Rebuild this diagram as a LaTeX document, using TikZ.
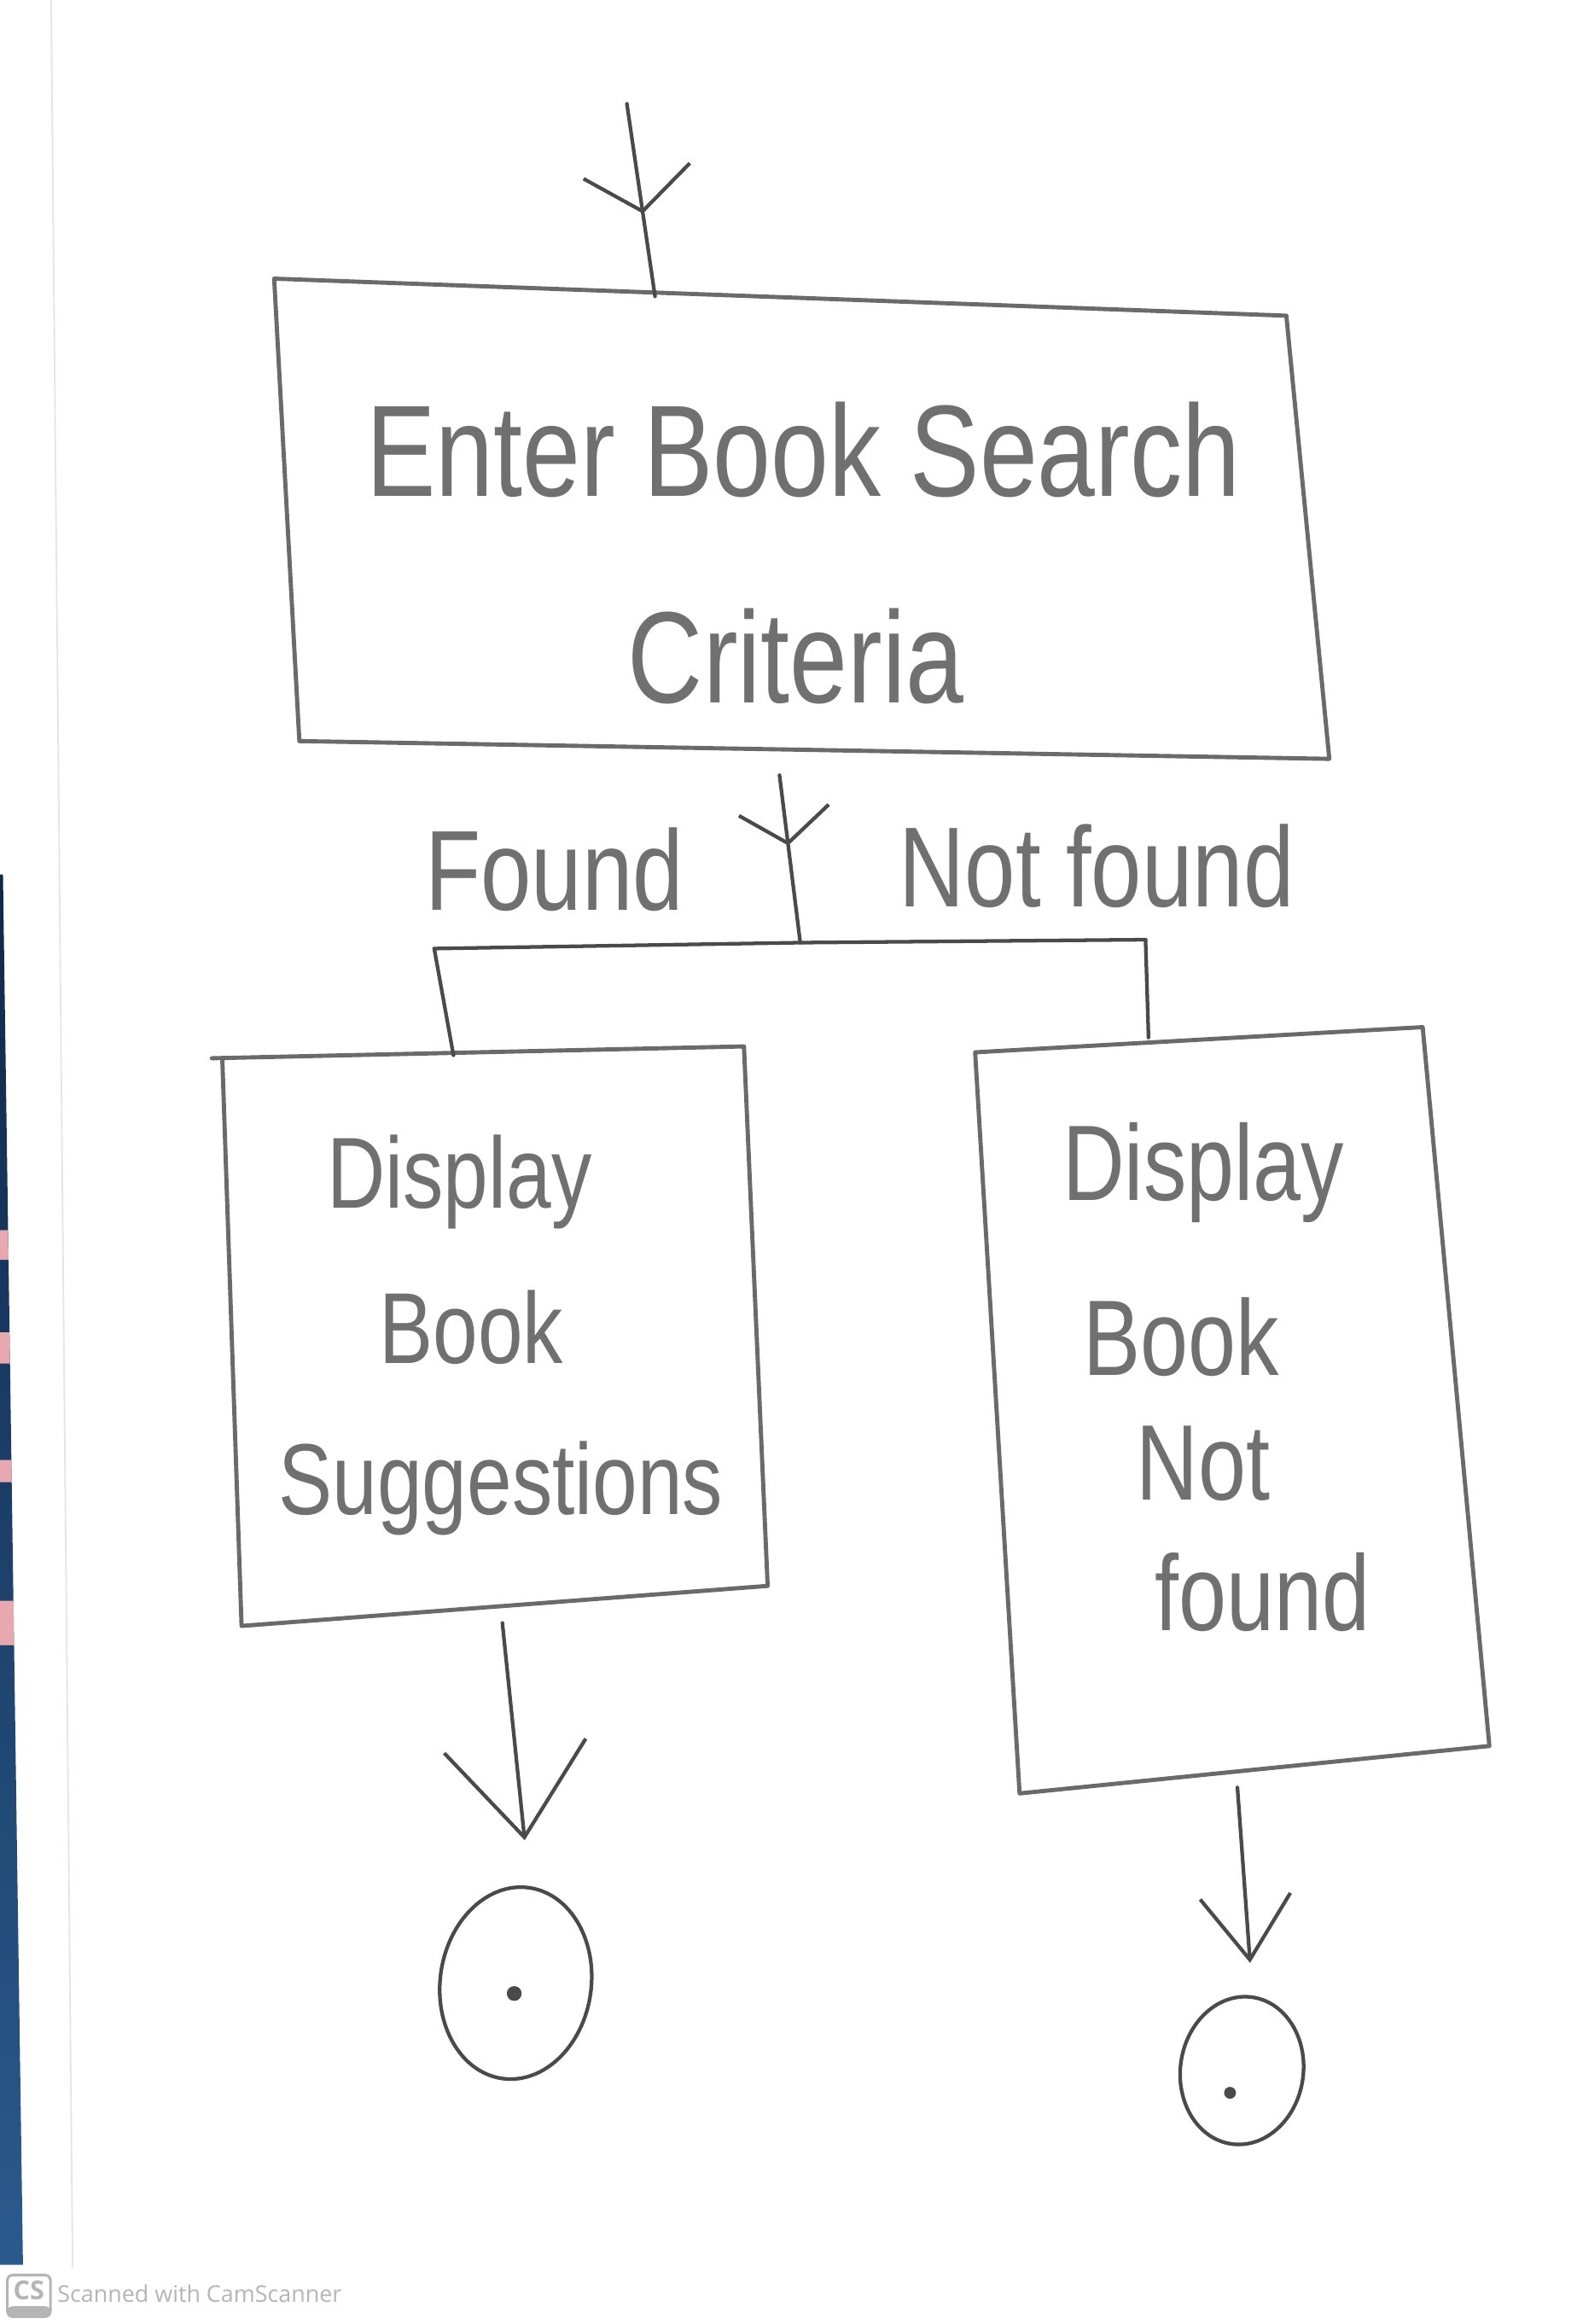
\documentclass[tikz,border=0pt]{standalone}
\usepackage{fontspec}
\setmainfont{Liberation Sans}
\newfontfamily\wmfont{Open Sans}
\usetikzlibrary{arrows.meta,decorations.markings,shapes.geometric}
\definecolor{pencil}{HTML}{4A4A4A}
\definecolor{boxline}{HTML}{6A6A6A}
\definecolor{lead}{HTML}{707070}
\definecolor{wm}{HTML}{B5B5B5}
\definecolor{scantop}{HTML}{10284A}
\definecolor{scanbot}{HTML}{2A5A8C}
\definecolor{scanpink}{HTML}{E8A8B0}
\newcommand{\hw}[2]{\fontsize{#1}{#1}\selectfont\scalebox{1}[1.25]{#2}}
\begin{document}
\begin{tikzpicture}[x=0.02cm,y=-0.02cm,
  stroke/.style={draw=pencil, line width=1.4pt, line cap=round, line join=round},
  boxstroke/.style={draw=boxline, line width=1.6pt, line cap=round, line join=round},
  hand/.style={text=lead, inner sep=0pt, anchor=base},
  endstate/.style={draw=pencil, line width=1.4pt, ellipse, inner sep=0pt},
  dot/.style={fill=pencil}]
\useasboundingbox (0,0) rectangle (1064,1568);
\fill[white] (0,0) rectangle (1064,1568);

% scan artefacts
\draw[draw=black!10, line width=0.6pt] (34.5,0) -- (49,1530);
\shade[top color=scantop, bottom color=scanbot] (0,590) -- (2,590) -- (15.5,1528) -- (0,1528) -- cycle;
\foreach \a/\b in {830/850, 899/920, 985/1000, 1080/1110}
  \fill[scanpink] (0,\a) -- ({2+13.5*(\a-590)/938},\a) -- ({2+13.5*(\b-590)/938},\b) -- (0,\b) -- cycle;

% connector points
\coordinate (in0) at (423,70);
\coordinate (tbTop) at (442,200);
\coordinate (stem0) at (526,523);
\coordinate (junc) at (540,636);
\coordinate (hl) at (293,640);
\coordinate (hr) at (773,634);
\coordinate (lbTop) at (306,712);
\coordinate (rbTop) at (775,700);
\coordinate (lbBot) at (339,1095);
\coordinate (rbBot) at (835,1206);

% top box
\draw[boxstroke] (185,188) -- (868,213) -- (897,512) -- (202,500) -- cycle;
\node[hand] (t1) at (542,335) {\hw{40pt}{Enter Book Search}};
\node[hand] (t2) at (537,474) {\hw{40pt}{Criteria}};

% left box
\draw[boxstroke] (143,714) -- (502,706) -- (518,1070) -- (163,1097) -- (150,714);
\node[hand] (l1) at (310,815) {\hw{31pt}{Display}};
\node[hand] (l2) at (318,920) {\hw{31pt}{Book}};
\node[hand] (l3) at (338,1022) {\hw{31pt}{Suggestions}};

% right box
\draw[boxstroke] (658,710) -- (960,693) -- (1005,1178) -- (688,1210) -- cycle;
\node[hand] (r1) at (812,810) {\hw{33pt}{Display}};
\node[hand] (r2) at (797,928) {\hw{33pt}{Book}};
\node[hand] (r3) at (812,1012) {\hw{33pt}{Not}};
\node[hand] (r4) at (852,1100) {\hw{33pt}{found}};

% branch labels
\node[hand] (lf) at (374,614) {\hw{35pt}{Found}};
\node[hand] (lnf) at (740,612) {\hw{35pt}{Not found}};

% end states
\node[endstate, minimum width=2.04cm, minimum height=2.6cm, rotate=-8] (endL) at (348,1338) {};
\node[endstate, minimum width=1.66cm, minimum height=2.0cm, rotate=-8] (endR) at (838,1397) {};
\fill[dot] (347,1345) circle (0.1cm);
\fill[dot] (830,1412) circle (0.08cm);

% connectors
\draw[stroke, postaction={decorate}, decoration={markings,
  mark=at position 0.57 with {\arrow{Straight Barb[length=0.55cm, width=1.45cm]}}}]
  (in0) -- (tbTop);
\draw[stroke, postaction={decorate}, decoration={markings,
  mark=at position 0.42 with {\arrow{Straight Barb[length=0.45cm, width=1.22cm]}}}]
  (stem0) -- (junc);
\draw[stroke] (hl) -- (junc) -- (hr);
\draw[stroke] (hl) -- (lbTop);
\draw[stroke] (hr) -- (rbTop);
\draw[stroke, -{Straight Barb[length=1.24cm, width=1.92cm]}, shorten >=0.62cm] (lbBot) -- (endL.north);
\draw[stroke, -{Straight Barb[length=0.86cm, width=1.22cm]}, shorten >=0.44cm] (rbBot) -- (endR.north);

% watermark
\draw[wm, line width=1pt, rounded corners=2pt] (5,1535) rectangle (34,1563);
\fill[wm, rounded corners=2pt] (5,1556) rectangle (34,1563);
\node[text=wm, inner sep=0pt, font=\wmfont\bfseries\fontsize{10pt}{10pt}\selectfont] (csicon) at (19.5,1545.5) {CS};
\node[text=wm, inner sep=0pt, anchor=base west, font=\wmfont\fontsize{8.8pt}{8.8pt}\selectfont] (wmtext) at (38.5,1553.5) {Scanned with CamScanner};
\end{tikzpicture}
\end{document}
